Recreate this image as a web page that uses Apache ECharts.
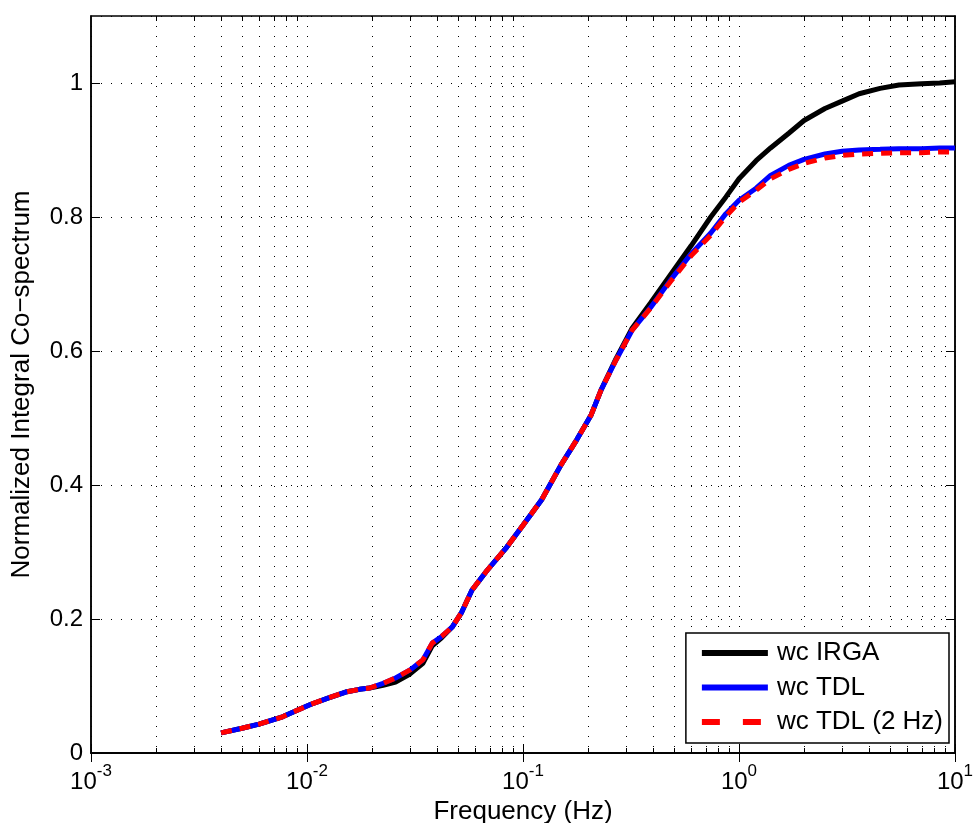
<!DOCTYPE html>
<html>
<head>
<meta charset="utf-8">
<script src="https://cdn.jsdelivr.net/npm/echarts@6/dist/echarts.min.js"></script>
<style>html,body{margin:0;padding:0;background:#fff;}#c{width:975px;height:823px;}</style>
</head>
<body>
<div id="c"></div>
<script>
const freq = [0.004, 0.005, 0.006, 0.0077, 0.0103, 0.0125, 0.0151, 0.0175, 0.0195, 0.0225, 0.0257, 0.03, 0.0344, 0.038, 0.042, 0.047, 0.052, 0.058, 0.068, 0.084, 0.1, 0.122, 0.15, 0.177, 0.207, 0.23, 0.27, 0.32, 0.39, 0.48, 0.6, 0.74, 0.87, 1.0, 1.2, 1.4, 1.7, 2.0, 2.5, 3.0, 3.6, 4.5, 5.5, 7, 8.5, 10];
const wcIRGA = [0.030, 0.037, 0.043, 0.054, 0.072, 0.082, 0.091, 0.095, 0.097, 0.101, 0.106, 0.118, 0.134, 0.160, 0.172, 0.188, 0.210, 0.243, 0.272, 0.307, 0.340, 0.378, 0.430, 0.467, 0.505, 0.542, 0.589, 0.634, 0.672, 0.713, 0.757, 0.800, 0.830, 0.857, 0.884, 0.903, 0.925, 0.944, 0.962, 0.973, 0.984, 0.992, 0.997, 0.999, 1.000, 1.002];
const wcTDL = [0.030, 0.037, 0.043, 0.054, 0.072, 0.082, 0.091, 0.095, 0.097, 0.104, 0.112, 0.124, 0.139, 0.164, 0.174, 0.188, 0.210, 0.243, 0.272, 0.307, 0.340, 0.378, 0.430, 0.467, 0.505, 0.542, 0.587, 0.631, 0.665, 0.705, 0.745, 0.776, 0.805, 0.825, 0.843, 0.862, 0.877, 0.886, 0.894, 0.898, 0.900, 0.901, 0.902, 0.902, 0.903, 0.903];
const wcTDL2Hz = [0.030, 0.037, 0.043, 0.054, 0.072, 0.082, 0.091, 0.095, 0.097, 0.104, 0.112, 0.124, 0.139, 0.164, 0.174, 0.188, 0.210, 0.243, 0.272, 0.307, 0.340, 0.378, 0.430, 0.467, 0.505, 0.542, 0.587, 0.631, 0.664, 0.703, 0.742, 0.773, 0.801, 0.822, 0.840, 0.857, 0.871, 0.880, 0.888, 0.892, 0.894, 0.895, 0.896, 0.896, 0.897, 0.897];
const minorX = [];
[0.001, 0.01, 0.1, 1].forEach(function (d) { for (let k = 2; k <= 9; k++) minorX.push(+(d * k).toPrecision(3)); });
const yTicks = [0, 0.2, 0.4, 0.6, 0.8, 1];
const seriesNames = ['wc IRGA', 'wc TDL', 'wc TDL (2 Hz)'];

const FONT = 'Liberation Sans, Arial, Helvetica, sans-serif';
const chart = echarts.init(document.getElementById('c'));
function pairs(ys) { return freq.map(function (f, i) { return [f, ys[i]]; }); }
function expLabel(v) {
  const e = Math.round(Math.log10(v));
  return '{b|10}{s|' + e + '}';
}
const dotted = { color: '#000', width: 1, type: [1, 9] };
const xLabelRich = {
  b: { fontSize: 24, fontFamily: FONT, color: '#000', verticalAlign: 'bottom' },
  s: { fontSize: 17, fontFamily: FONT, color: '#000', verticalAlign: 'top', padding: [0, 0, 14, 0] }
};

chart.setOption({
  animation: false,
  backgroundColor: '#fff',
  grid: { left: 91, right: 20, top: 16, bottom: 70, outerBoundsMode: 'none', containLabel: false,
    show: true, borderColor: '#000', borderWidth: 1.5, backgroundColor: 'transparent' },
  legend: {
    right: 26, bottom: 80, orient: 'vertical',
    data: [
      { name: seriesNames[0] },
      { name: seriesNames[1] },
      { name: seriesNames[2], lineStyle: { type: [18, 23] } }
    ],
    backgroundColor: '#fff', borderColor: '#000', borderWidth: 1.5,
    padding: [7, 6, 8, 13], itemGap: 8.5, itemWidth: 66, itemHeight: 26,
    itemStyle: { opacity: 0 },
    lineStyle: { width: 6 },
    textStyle: { fontSize: 26, lineHeight: 26, fontFamily: FONT, color: '#000', padding: [0, 0, 0, 4] }
  },
  xAxis: [{
    type: 'log', logBase: 10, min: 0.001, max: 10, position: 'bottom',
    name: 'Frequency (Hz)', nameLocation: 'middle', nameGap: 38,
    nameTextStyle: { fontSize: 26, fontFamily: FONT, color: '#000' },
    axisLine: { show: true, lineStyle: { color: '#000', width: 1.5 } },
    axisTick: { show: true, inside: true, length: 9, lineStyle: { color: '#000', width: 1 } },
    axisLabel: { formatter: expLabel, rich: xLabelRich, margin: 10 },
    splitLine: { show: true, lineStyle: dotted }
  }, {
    type: 'log', logBase: 10, min: 0.001, max: 10, position: 'top',
    axisLine: { show: true, lineStyle: { color: '#000', width: 1.5 } },
    axisTick: { show: true, inside: true, length: 9, lineStyle: { color: '#000', width: 1 } },
    axisLabel: { show: false }, splitLine: { show: false }
  }],
  yAxis: [{
    type: 'value', min: 0, max: 1.1, interval: 0.2, position: 'left',
    name: 'Normalized Integral Co\u2212spectrum', nameLocation: 'middle', nameGap: 56,
    nameTextStyle: { fontSize: 26, fontFamily: FONT, color: '#000' },
    axisLine: { show: true, lineStyle: { color: '#000', width: 1.5 } },
    axisTick: { show: true, inside: true, length: 9, lineStyle: { color: '#000', width: 1 } },
    axisLabel: { fontSize: 24, fontFamily: FONT, color: '#000', margin: 8, showMaxLabel: false,
      formatter: function (v) { return yTicks.indexOf(+v.toFixed(2)) >= 0 ? String(+v.toFixed(1)) : ''; } },
    splitLine: { show: true, lineStyle: dotted }
  }, {
    type: 'value', min: 0, max: 1.1, interval: 0.2, position: 'right',
    axisLine: { show: true, lineStyle: { color: '#000', width: 1.5 } },
    axisTick: { show: true, inside: true, length: 9, lineStyle: { color: '#000', width: 1 } },
    axisLabel: { show: false }, splitLine: { show: false }
  }],
  series: [{
    type: 'custom', xAxisIndex: 0, yAxisIndex: 0, silent: true, z: 1,
    data: minorX.map(function (v) { return [v, 0]; }),
    encode: { x: 0, y: 1 },
    renderItem: function (params, api) {
      const cs = params.coordSys;
      const x = Math.round(api.coord([api.value(0), 0])[0]) + 0.5;
      const top = cs.y, bot = cs.y + cs.height;
      return { type: 'group', children: [
        { type: 'line', shape: { x1: x, y1: top, x2: x, y2: bot }, style: { stroke: '#000', lineWidth: 1, lineDash: [1, 9] } },
        { type: 'line', shape: { x1: x, y1: bot, x2: x, y2: bot - 5 }, style: { stroke: '#000', lineWidth: 1 } },
        { type: 'line', shape: { x1: x, y1: top, x2: x, y2: top + 5 }, style: { stroke: '#000', lineWidth: 1 } }
      ] };
    }
  }, {
    name: seriesNames[0], type: 'line', data: pairs(wcIRGA), showSymbol: false, symbol: 'none', z: 3,
    lineStyle: { color: '#000', width: 5 }, itemStyle: { color: '#000' }
  }, {
    name: seriesNames[1], type: 'line', data: pairs(wcTDL), showSymbol: false, symbol: 'none', z: 4,
    lineStyle: { color: '#0000ff', width: 5 }, itemStyle: { color: '#0000ff' }
  }, {
    name: seriesNames[2], type: 'line', data: pairs(wcTDL2Hz), showSymbol: false, symbol: 'none', z: 5,
    lineStyle: { color: '#ff0000', width: 5, type: [11, 8] }, itemStyle: { color: '#ff0000' }
  }]
});
</script>
</body>
</html>
